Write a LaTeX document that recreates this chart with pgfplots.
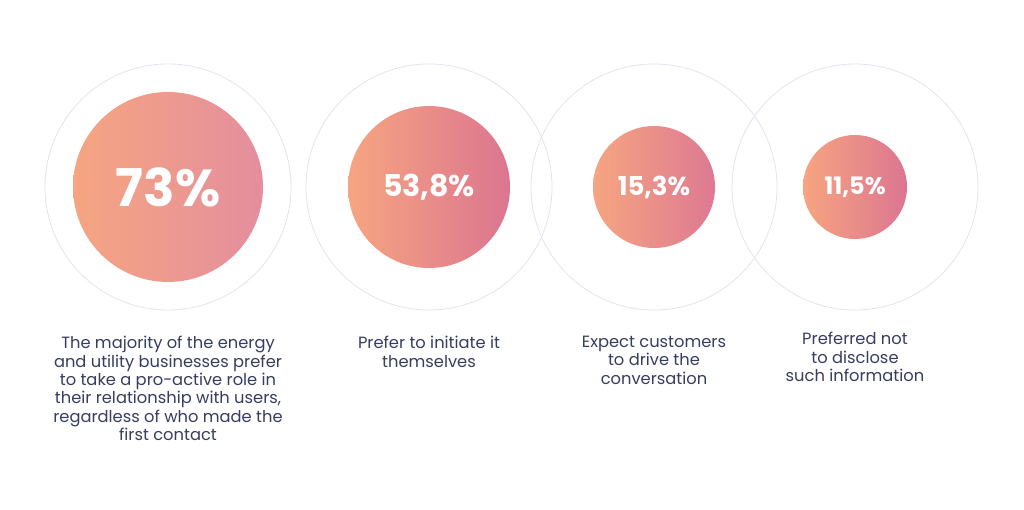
\documentclass[border=0pt]{standalone}
\usepackage{pgfplots}
\usepackage{pgfplotstable}
\pgfplotsset{compat=1.18}
\usepackage{fontspec}
\setmainfont{Poppins}

\definecolor{txt}{HTML}{363D5E}
\definecolor{gA}{HTML}{F6A581}
\definecolor{gBl}{HTML}{E48E9E}
\definecolor{gBd}{HTML}{DC7590}
\definecolor{ring}{HTML}{E1E4EC}

% bubble centres, diameters (px), font size of the value, share of the light right colour
\pgfplotstableread{
x   y   d   fs  mix  lab
168 187 190 52  100  73\%
429 187 162 30  0    53,8\%
654 187 122 26  15   15,3\%
855 187 104 24  0    11,5\%
}\bubbles

\begin{document}
\begin{tikzpicture}
\begin{axis}[
    width=1024bp, height=510bp, scale only axis,
    xmin=0, xmax=1024, ymin=0, ymax=510, y dir=reverse,
    hide axis, clip=false,
    ]
% thin outer rings
\addplot[only marks, mark=o, mark size=123bp,
    mark options={draw=ring, line width=0.8pt}]
    table[x=x, y=y] {\bubbles};
% gradient bubbles with the values
\addplot[only marks, mark=*, mark size=0pt,
    nodes near coords, point meta=explicit symbolic,
    visualization depends on={\thisrow{d} \as \dia},
    visualization depends on={\thisrow{fs} \as \fsz},
    visualization depends on={\thisrow{mix} \as \mixv},
    every node near coord/.style={anchor=center, circle, inner sep=0pt,
        minimum size=\dia bp, left color=gA, right color=gBl!\mixv!gBd,
        text=white, font=\bfseries\fontsize{\fsz bp}{\fsz bp}\selectfont}]
    table[x=x, y=y, meta=lab] {\bubbles};

\tikzset{lbl/.style={anchor=north, align=center, inner sep=0pt, text=txt,
    font=\fontsize{16.3bp}{18.4bp}\selectfont}}
\node[lbl] at (axis cs:168,336) {The majority of the energy\\and utility businesses prefer\\to take a pro-active role in\\their relationship with users,\\regardless of who made the\\first contact};
\node[lbl] at (axis cs:429,336) {Prefer to initiate it\\themselves};
\node[lbl] at (axis cs:654,336) {Expect customers\\to drive the\\conversation};
\node[lbl] at (axis cs:855,332) {Preferred not\\to disclose\\such information};
\end{axis}
\pgfresetboundingbox
\path[use as bounding box] (current axis.south west) rectangle (current axis.north east);
\end{tikzpicture}
\end{document}
